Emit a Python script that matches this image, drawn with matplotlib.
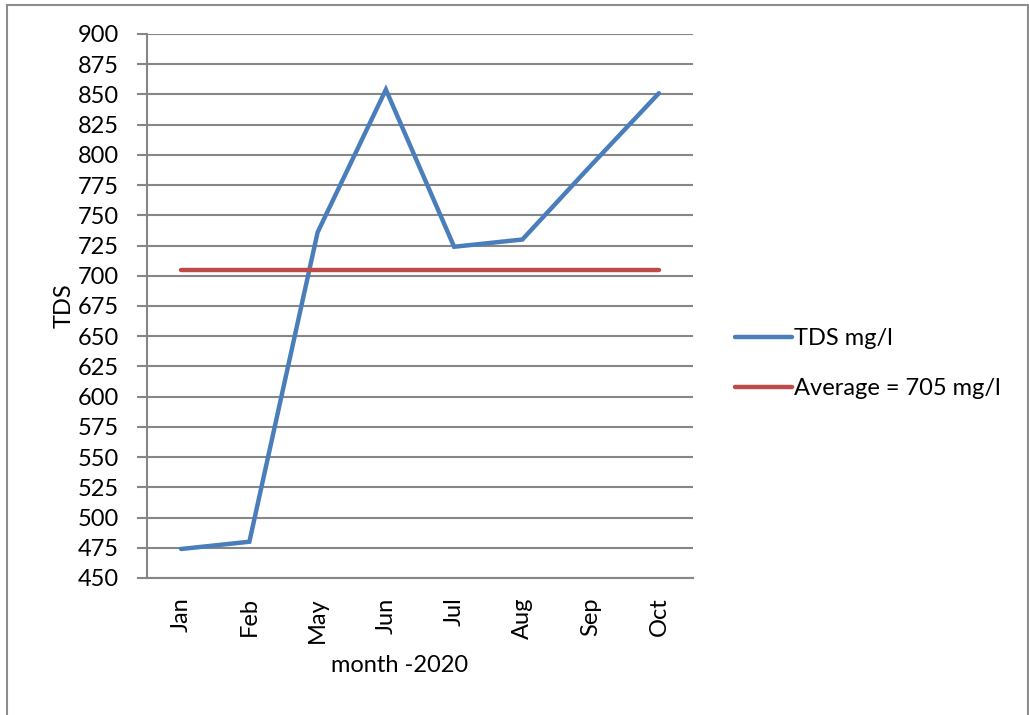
import numpy as np
import matplotlib.pyplot as plt
from matplotlib.patches import Rectangle

months = ['Jan', 'Feb', 'May', 'Jun', 'Jul', 'Aug', 'Sep', 'Oct']
tds = [474, 480, 736, 854, 724, 730, 791, 851]
average = [705] * len(months)
yticks = list(range(450, 901, 25))

plt.rcParams['font.family'] = ['Lato', 'DejaVu Sans']

fig = plt.figure(figsize=(10.29, 7.15), dpi=100)
# outer chart frame
fig.patches.append(Rectangle((7 / 1029, -0.01), 1021 / 1029, 1.01 - 5 / 715,
                             transform=fig.transFigure, fill=False,
                             edgecolor='#8c8c8c', linewidth=1.5))

ax = fig.add_axes([147 / 1029, 1 - 578 / 715, 546 / 1029, 544 / 715])

x = np.arange(len(months))
ax.plot(x, tds, color='#4a7ebb', linewidth=3.2, solid_capstyle='round',
        solid_joinstyle='miter', label='TDS mg/l')
ax.plot(x, average, color='#be4b48', linewidth=3.2, solid_capstyle='round',
        label='Average = 705 mg/l')

ax.set_xlim(-0.5, len(months) - 0.5)
ax.set_ylim(450, 900)
ax.set_yticks(yticks)
ax.set_xticks(x)
ax.set_xticklabels(months, rotation=90)

ax.grid(axis='y', color='#868686', linewidth=1.5)
ax.set_axisbelow(True)
for s in ['top', 'right']:
    ax.spines[s].set_visible(False)
for s in ['left', 'bottom']:
    ax.spines[s].set_color('#868686')
    ax.spines[s].set_linewidth(1.5)

ax.tick_params(axis='y', labelsize=17, length=7, width=1.5, color='#868686', pad=13)
ax.tick_params(axis='x', labelsize=17, length=0, pad=14)

ax.set_ylabel('TDS', fontsize=17)
ax.yaxis.set_label_coords(-0.133, 0.5)
ax.set_xlabel('month -2020', fontsize=17)
ax.xaxis.set_label_coords(0.463, -0.142)

ax.legend(loc='center left', bbox_to_anchor=(1.038, 0.394), frameon=False,
          fontsize=17, handlelength=2.4, handletextpad=0.1, labelspacing=1.2)

plt.savefig('out.png', dpi=100)
